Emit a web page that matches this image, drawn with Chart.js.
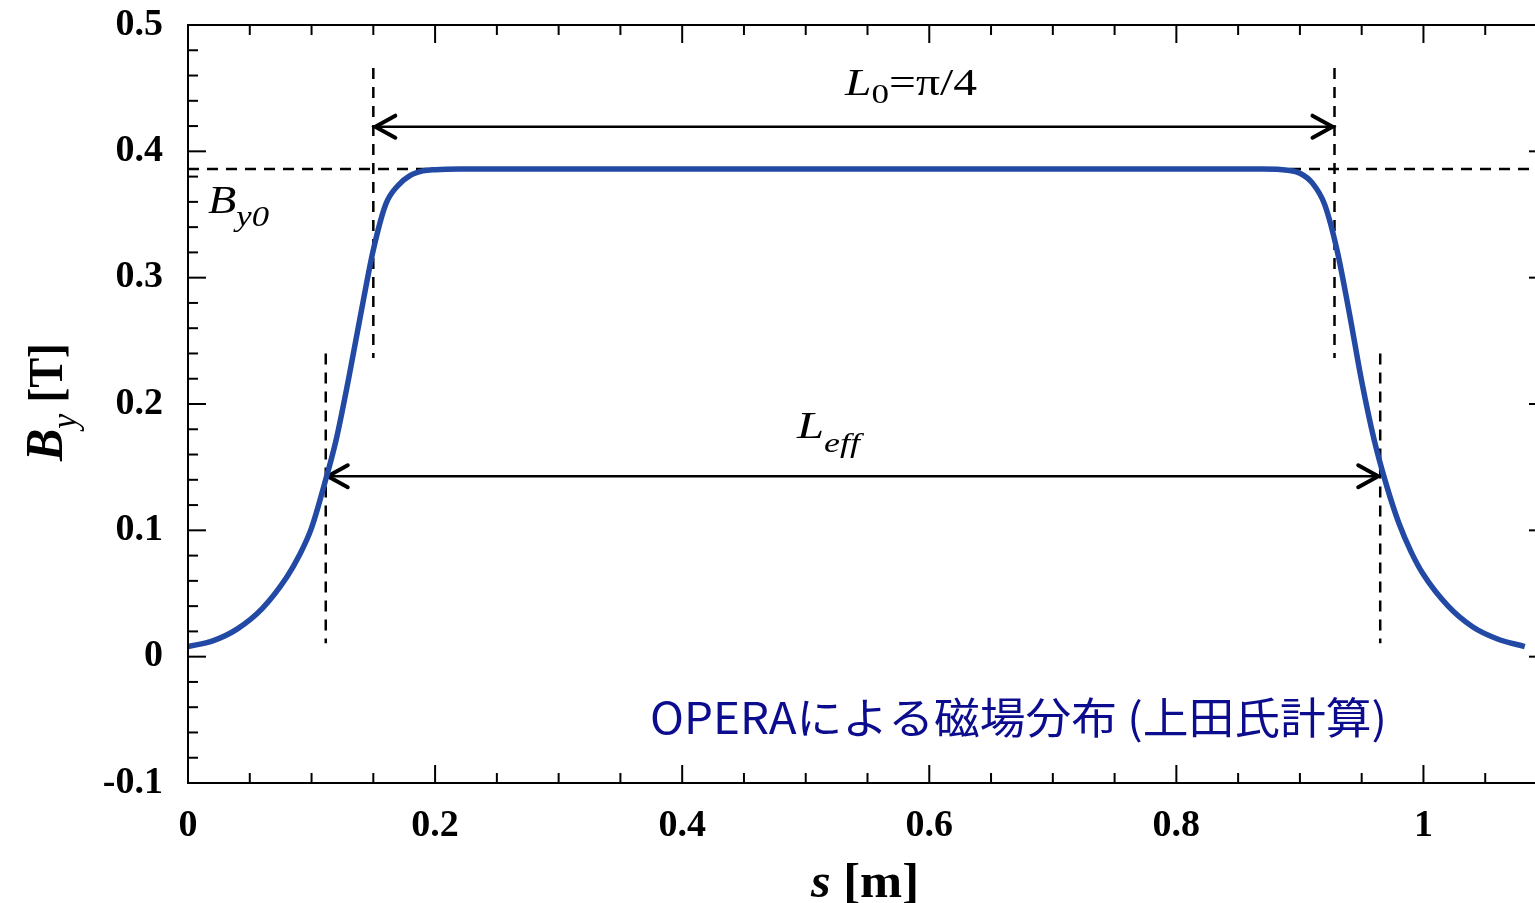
<!DOCTYPE html>
<html>
<head>
<meta charset="utf-8">
<script src="https://cdn.jsdelivr.net/npm/chart.js@4.4.0/dist/chart.umd.min.js"></script>
<style>
  html, body { margin: 0; padding: 0; background: #fff; overflow: hidden; width: 1535px; height: 903px; }
  #wrap { width: 1560px; height: 903px; }
</style>
</head>
<body>
<div id="wrap"><canvas id="fieldChart" width="1560" height="903"></canvas></div>
<script>
// s [m] and By [T]
const sValues = [0, 0.02, 0.04, 0.06, 0.08, 0.09, 0.1, 0.11, 0.12, 0.13, 0.14, 0.15, 0.16, 0.17, 0.18, 0.19,
  0.2, 0.22, 0.4, 0.6, 0.8, 0.87, 0.89, 0.9, 0.91, 0.92, 0.93, 0.94, 0.95, 0.96, 0.97, 0.98, 0.99, 1.0,
  1.02, 1.04, 1.06, 1.082];
const byValues = [0.008, 0.0125, 0.022, 0.038, 0.063, 0.080, 0.102, 0.135, 0.172, 0.22, 0.272, 0.322, 0.358,
  0.373, 0.381, 0.3845, 0.3855, 0.386, 0.386, 0.386, 0.386, 0.386, 0.385, 0.3827, 0.375, 0.358, 0.322, 0.272,
  0.218, 0.172, 0.136, 0.106, 0.083, 0.065, 0.040, 0.0235, 0.014, 0.008];

const xTickValues = [0, 0.2, 0.4, 0.6, 0.8, 1];
const xTickLabels = ['0', '0.2', '0.4', '0.6', '0.8', '1'];
const yTickValues = [0.5, 0.4, 0.3, 0.2, 0.1, 0, -0.1];
const yTickLabels = ['0.5', '0.4', '0.3', '0.2', '0.1', '0', '-0.1'];

// annotation values
const by0 = 0.386;
const l0Edges = [0.15, 0.928];
const leffEdges = [0.1115, 0.965];
const l0ArrowY = 0.4195;
const leffArrowY = 0.1428;

const serif = '"Liberation Serif", "Times New Roman", serif';

function pickLabel(values, labels, v) {
  const i = values.findIndex(t => Math.abs(t - v) < 1e-6);
  return i < 0 ? '' : labels[i];
}

// draws text pieces with mixed fonts, stretched to a target width
function drawRuns(ctx, x, y, parts, target) {
  let w = 0;
  parts.forEach(p => { ctx.font = p.font; p.w = ctx.measureText(p.t).width; w += p.w; });
  const sx = target ? target / w : 1;
  ctx.save();
  ctx.translate(x, y);
  ctx.scale(sx, 1);
  ctx.textAlign = 'left';
  ctx.textBaseline = 'alphabetic';
  let cx = 0;
  parts.forEach(p => { ctx.font = p.font; ctx.fillText(p.t, cx, p.dy || 0); cx += p.w; });
  ctx.restore();
}

function seg(ctx, x1, y1, x2, y2) {
  ctx.beginPath(); ctx.moveTo(x1, y1); ctx.lineTo(x2, y2); ctx.stroke();
}

function arrow(ctx, x1, x2, y) {
  ctx.setLineDash([]);
  ctx.lineWidth = 2.5;
  seg(ctx, x1, y, x2, y);
  ctx.lineWidth = 4;
  ctx.lineCap = 'round';
  ctx.beginPath();
  ctx.moveTo(x1 + 22, y - 11); ctx.lineTo(x1 + 2, y); ctx.lineTo(x1 + 22, y + 11);
  ctx.moveTo(x2 - 22, y - 11); ctx.lineTo(x2 - 2, y); ctx.lineTo(x2 - 22, y + 11);
  ctx.stroke();
  ctx.lineCap = 'butt';
}

const decor = {
  id: 'decor',
  beforeDatasetsDraw(chart) {
    const { ctx, chartArea: a, scales: { x, y } } = chart;
    ctx.save();
    ctx.strokeStyle = '#000';
    ctx.lineWidth = 2.5;
    ctx.setLineDash([11, 8]);
    const yb = y.getPixelForValue(by0);
    seg(ctx, a.left, yb, a.right, yb);
    l0Edges.forEach(v => {
      const px = x.getPixelForValue(v);
      seg(ctx, px, y.getPixelForValue(0.466), px, y.getPixelForValue(0.2365));
    });
    leffEdges.forEach(v => {
      const px = x.getPixelForValue(v);
      seg(ctx, px, y.getPixelForValue(0.240), px, y.getPixelForValue(0.0106));
    });
    arrow(ctx, x.getPixelForValue(l0Edges[0]), x.getPixelForValue(l0Edges[1]), y.getPixelForValue(l0ArrowY));
    arrow(ctx, x.getPixelForValue(leffEdges[0]), x.getPixelForValue(leffEdges[1]), y.getPixelForValue(leffArrowY));
    ctx.restore();
  },
  afterDraw(chart) {
    const { ctx, chartArea: a, scales: { x, y } } = chart;
    ctx.save();
    ctx.strokeStyle = '#000';
    ctx.lineWidth = 2;
    ctx.setLineDash([]);
    ctx.strokeRect(a.left, a.top, a.right - a.left, a.bottom - a.top);

    // inward ticks, major and minor
    for (let i = 0; i <= 22; i++) {
      const px = x.getPixelForValue(i * 0.05);
      const len = (i % 4 === 0) ? 18 : 10;
      seg(ctx, px, a.bottom, px, a.bottom - len);
      seg(ctx, px, a.top, px, a.top + len);
    }
    for (let i = -5; i <= 25; i++) {
      const py = y.getPixelForValue(i * 0.02);
      const len = (i % 5 === 0) ? 18 : 10;
      seg(ctx, a.left, py, a.left + len, py);
      seg(ctx, a.right, py, a.right - len, py);
    }

    ctx.fillStyle = '#000';
    drawRuns(ctx, 845, 95, [
      { t: 'L', font: 'italic 38px ' + serif },
      { t: '0', font: '28px ' + serif, dy: 8 },
      { t: '=π/4', font: '38px ' + serif }
    ], 132);
    drawRuns(ctx, 797, 438, [
      { t: 'L', font: 'italic 38px ' + serif },
      { t: 'eff', font: 'italic 28px ' + serif, dy: 14 }
    ], 63);
    drawRuns(ctx, 208, 213, [
      { t: 'B', font: 'italic 40px ' + serif },
      { t: 'y0', font: 'italic 30px ' + serif, dy: 13 }
    ], 61);

    // axis titles
    drawRuns(ctx, 811, 897, [
      { t: 's', font: 'bold italic 48px ' + serif },
      { t: ' [m]', font: 'bold 48px ' + serif }
    ], 108);
    ctx.save();
    ctx.translate(62, 461);
    ctx.rotate(-Math.PI / 2);
    drawRuns(ctx, 0, 0, [
      { t: 'B', font: 'bold italic 52px ' + serif },
      { t: 'y', font: 'italic 36px ' + serif, dy: 14 },
      { t: ' [T]', font: 'bold 48px ' + serif }
    ], 118);
    ctx.restore();

    ctx.fillStyle = '#0c0c8e';
    const jp = '43px "Noto Sans CJK JP", "Noto Sans", sans-serif';
    drawRuns(ctx, 650, 734, [
      { t: 'OPERAによる磁場分布', font: jp },
      { t: ' (', font: jp },
      { t: '上田氏計算', font: jp },
      { t: ')', font: jp }
    ], 737);
    ctx.restore();
  }
};

const ctx = document.getElementById('fieldChart').getContext('2d');
new Chart(ctx, {
  type: 'scatter',
  data: {
    datasets: [{
      label: 'By',
      data: sValues.map((s, i) => ({ x: s, y: byValues[i] })),
      showLine: true,
      borderColor: '#2249a3',
      borderWidth: 5.5,
      pointRadius: 0,
      cubicInterpolationMode: 'monotone',
      fill: false
    }]
  },
  options: {
    responsive: false,
    animation: false,
    devicePixelRatio: 1,
    layout: { padding: { top: 25, right: 13, left: 0, bottom: 0 } },
    plugins: { legend: { display: false }, tooltip: { enabled: false } },
    scales: {
      x: {
        type: 'linear',
        min: 0,
        max: 1.1,
        grid: { display: false, drawTicks: false },
        border: { display: false },
        afterBuildTicks: s => { s.ticks = xTickValues.map(v => ({ value: v })); },
        afterFit: s => { s.height = 120; s.paddingLeft = 0; s.paddingRight = 0; },
        ticks: {
          padding: 20,
          maxRotation: 0,
          autoSkip: false,
          color: '#000',
          font: { family: serif, size: 38, weight: 'bold' },
          callback: v => pickLabel(xTickValues, xTickLabels, v)
        }
      },
      y: {
        type: 'linear',
        min: -0.1,
        max: 0.5,
        grid: { display: false, drawTicks: false },
        border: { display: false },
        afterBuildTicks: s => { s.ticks = yTickValues.map(v => ({ value: v })); },
        afterFit: s => { s.width = 188; s.paddingTop = 0; s.paddingBottom = 0; },
        ticks: {
          padding: 25,
          autoSkip: false,
          color: '#000',
          font: { family: serif, size: 38, weight: 'bold' },
          callback: v => pickLabel(yTickValues, yTickLabels, v)
        }
      }
    }
  },
  plugins: [decor]
});
</script>
</body>
</html>
